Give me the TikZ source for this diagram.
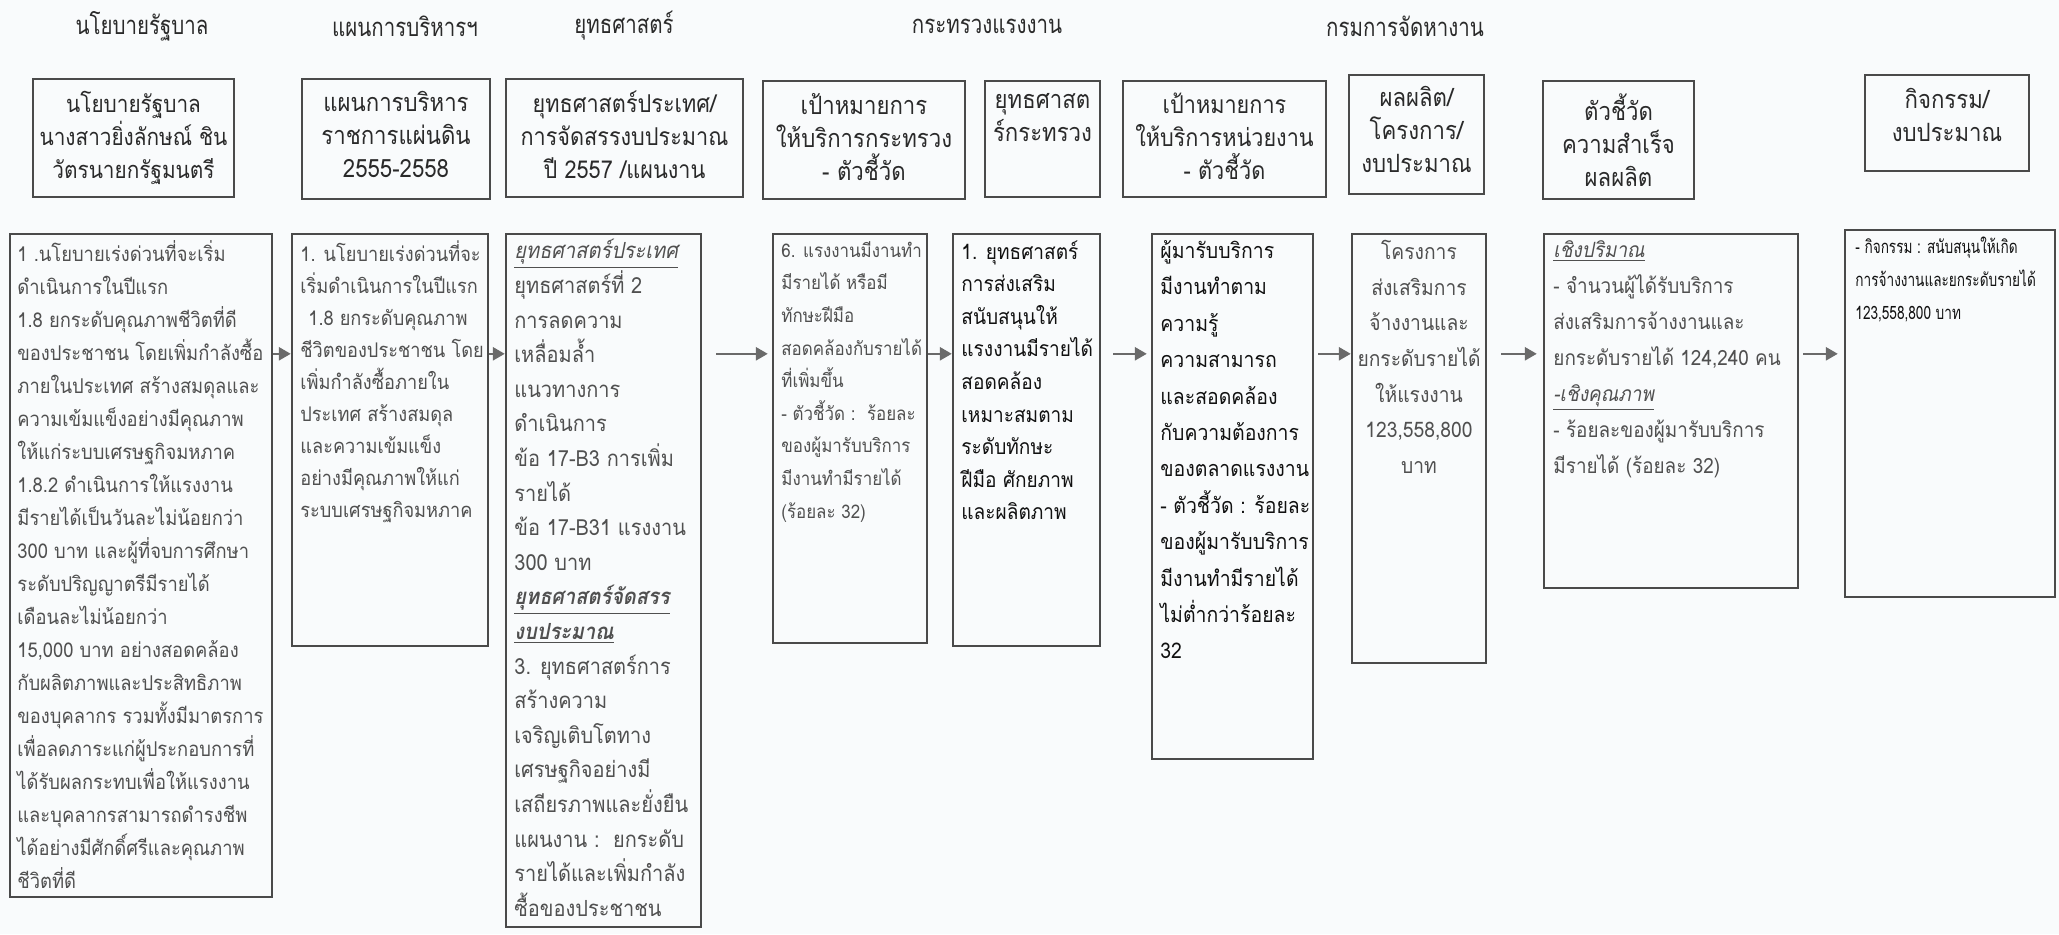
\documentclass[tikz,border=0pt]{standalone}
\usepackage{fontspec}
\setmainfont[Script=Thai,FakeStretch=0.9]{Loma}
\newfontfamily\thainarrow[Script=Thai,FakeStretch=0.74]{Loma}
\newfontfamily\thaihead[Script=Thai,FakeStretch=0.88]{Loma}
\newfontfamily\thaititle[Script=Thai,FakeStretch=0.8]{Loma}
\usetikzlibrary{arrows.meta,fit}
\definecolor{bg}{HTML}{F9FBFC}
\definecolor{boxline}{HTML}{4A4A4A}
\definecolor{graytext}{HTML}{505050}
\definecolor{darktext}{HTML}{111111}
\definecolor{headtext}{HTML}{2A2A2A}
\definecolor{arrowcol}{HTML}{6A6A6A}
\begin{document}
\begin{tikzpicture}[x=0.5pt,y=-0.5pt,
  frame/.style={draw=boxline, line width=1.2pt, inner sep=0pt},
  bodytxt/.style={anchor=north west, inner sep=0pt, align=left, text=graytext,
    font=\fontsize{10.7pt}{16.5pt}\selectfont},
  darktxt/.style={bodytxt, text=darktext},
  headtxt/.style={anchor=north, inner sep=0pt, align=center, text=headtext,
    font=\thaihead\fontsize{12.6pt}{16.5pt}\selectfont},
  titletxt/.style={anchor=center, inner sep=0pt, text=headtext,
    font=\thaititle\fontsize{12.8pt}{15pt}\selectfont},
  arr/.style={draw=arrowcol, line width=1.3pt, -{Triangle[length=6pt,width=6.5pt]}},
]
\useasboundingbox (0,0) rectangle (2059,934);
\fill[bg] (0,0) rectangle (2059,934);

% ---- titles ----
\node[titletxt] (ti1) at (142,26) {นโยบายรัฐบาล};
\node[titletxt] (ti2) at (405,26) {แผนการบริหารฯ};
\node[titletxt] (ti3) at (624,26) {ยุทธศาสตร์};
\node[titletxt] (ti4) at (987,26) {กระทรวงแรงงาน};
\node[titletxt] (ti5) at (1405,26) {กรมการจัดหางาน};

% ---- header boxes ----
\node[frame, fit={(33,79) (234,197)}] (hA) {};
\node[headtxt, font=\thaihead\fontsize{11.8pt}{16.5pt}\selectfont] (thA) at (133.5,91) {นโยบายรัฐบาล\\นางสาวยิ่งลักษณ์ ชิน\\วัตรนายกรัฐมนตรี};
\node[frame, fit={(302,79) (490,199)}] (hB) {};
\node[headtxt] (thB) at (396,91) {แผนการบริหาร\\ราชการแผ่นดิน\\2555-2558};
\node[frame, fit={(506,79) (743,197)}] (hC) {};
\node[headtxt, font=\thaihead\fontsize{12.3pt}{16.5pt}\selectfont] (thC) at (624.5,91) {ยุทธศาสตร์ประเทศ/\\การจัดสรรงบประมาณ\\ปี 2557 /แผนงาน};
\node[frame, fit={(763,81) (965,199)}] (hD) {};
\node[headtxt] (thD) at (864,93) {เป้าหมายการ\\ให้บริการกระทรวง\\- ตัวชี้วัด};
\node[frame, fit={(985,81) (1100,197)}] (hE) {};
\node[headtxt] (thE) at (1042.5,93) {ยุทธศาสต\\ร์กระทรวง};
\node[frame, fit={(1123,81) (1326,197)}] (hF) {};
\node[headtxt, font=\thaihead\fontsize{12.3pt}{16.5pt}\selectfont] (thF) at (1224.5,93) {เป้าหมายการ\\ให้บริการหน่วยงาน\\- ตัวชี้วัด};
\node[frame, fit={(1349,75) (1484,194)}] (hG) {};
\node[headtxt] (thG) at (1416.5,86) {ผลผลิต/\\โครงการ/\\งบประมาณ};
\node[frame, fit={(1543,81) (1694,199)}] (hH) {};
\node[headtxt] (thH) at (1618.5,93) {ตัวชี้วัด\\ความสำเร็จ\\ผลผลิต};
\node[frame, fit={(1865,75) (2029,171)}] (hI) {};
\node[headtxt] (thI) at (1947,88) {กิจกรรม/\\งบประมาณ};

% ---- body boxes ----
\node[frame, fit={(10,234) (272,897)}] (b1) {};
\node[bodytxt, font=\fontsize{10.2pt}{16.5pt}\selectfont] (t1) at (17,240) {1 .นโยบายเร่งด่วนที่จะเริ่ม\\
ดำเนินการในปีแรก\\
1.8 ยกระดับคุณภาพชีวิตที่ดี\\
ของประชาชน โดยเพิ่มกำลังซื้อ\\
ภายในประเทศ สร้างสมดุลและ\\
ความเข้มแข็งอย่างมีคุณภาพ\\
ให้แก่ระบบเศรษฐกิจมหภาค\\
1.8.2 ดำเนินการให้แรงงาน\\
มีรายได้เป็นวันละไม่น้อยกว่า\\
300 บาท และผู้ที่จบการศึกษา\\
ระดับปริญญาตรีมีรายได้\\
เดือนละไม่น้อยกว่า\\
15,000 บาท อย่างสอดคล้อง\\
กับผลิตภาพและประสิทธิภาพ\\
ของบุคลากร รวมทั้งมีมาตรการ\\
เพื่อลดภาระแก่ผู้ประกอบการที่\\
ได้รับผลกระทบเพื่อให้แรงงาน\\
และบุคลากรสามารถดำรงชีพ\\
ได้อย่างมีศักดิ์ศรีและคุณภาพ\\
ชีวิตที่ดี};

\node[frame, fit={(292,234) (488,646)}] (b2) {};
\node[bodytxt, font=\fontsize{10.1pt}{16pt}\selectfont] (t2) at (300,240) {1. นโยบายเร่งด่วนที่จะ\\
เริ่มดำเนินการในปีแรก\\
\hspace*{4pt}1.8 ยกระดับคุณภาพ\\
ชีวิตของประชาชน โดย\\
เพิ่มกำลังซื้อภายใน\\
ประเทศ สร้างสมดุล\\
และความเข้มแข็ง\\
อย่างมีคุณภาพให้แก่\\
ระบบเศรษฐกิจมหภาค};

\node[frame, fit={(506,234) (701,927)}] (b3) {};
\node[bodytxt, font=\fontsize{11.1pt}{17.3pt}\selectfont] (t3) at (514,239) {\underline{\itshape ยุทธศาสตร์ประเทศ}\\
ยุทธศาสตร์ที่ 2\\
การลดความ\\
เหลื่อมล้ำ\\
แนวทางการ\\
ดำเนินการ\\
ข้อ 17-B3 การเพิ่ม\\
รายได้\\
ข้อ 17-B31 แรงงาน\\
300 บาท\\
\underline{\bfseries\itshape ยุทธศาสตร์จัดสรร}\\
\underline{\bfseries\itshape งบประมาณ}\\
3. ยุทธศาสตร์การ\\
สร้างความ\\
เจริญเติบโตทาง\\
เศรษฐกิจอย่างมี\\
เสถียรภาพและยั่งยืน\\
แผนงาน :\ \ ยกระดับ\\
รายได้และเพิ่มกำลัง\\
ซื้อของประชาชน};

\node[frame, fit={(773,234) (927,643)}] (b4) {};
\node[bodytxt, font=\fontsize{9.4pt}{16.3pt}\selectfont] (t4) at (781,241) {6. แรงงานมีงานทำ\\
มีรายได้ หรือมี\\
ทักษะฝีมือ\\
สอดคล้องกับรายได้\\
ที่เพิ่มขึ้น\\
- ตัวชี้วัด :\ \ ร้อยละ\\
ของผู้มารับบริการ\\
มีงานทำมีรายได้\\
(ร้อยละ 32)};

\node[frame, fit={(953,234) (1100,646)}] (b5) {};
\node[darktxt, font=\fontsize{10.6pt}{16.3pt}\selectfont] (t5) at (961,240) {1. ยุทธศาสตร์\\
การส่งเสริม\\
สนับสนุนให้\\
แรงงานมีรายได้\\
สอดคล้อง\\
เหมาะสมตาม\\
ระดับทักษะ\\
ฝีมือ ศักยภาพ\\
และผลิตภาพ};

\node[frame, fit={(1152,234) (1313,759)}] (b6) {};
\node[darktxt, font=\fontsize{10.8pt}{18.2pt}\selectfont] (t6) at (1160,240) {ผู้มารับบริการ\\
มีงานทำตาม\\
ความรู้\\
ความสามารถ\\
และสอดคล้อง\\
กับความต้องการ\\
ของตลาดแรงงาน\\
- ตัวชี้วัด : ร้อยละ\\
ของผู้มารับบริการ\\
มีงานทำมีรายได้\\
ไม่ต่ำกว่าร้อยละ\\
32};

\node[frame, fit={(1352,234) (1486,663)}] (b7) {};
\node[bodytxt, anchor=north, align=center, font=\fontsize{10.7pt}{17.8pt}\selectfont] (t7) at (1419,240) {โครงการ\\
ส่งเสริมการ\\
จ้างงานและ\\
ยกระดับรายได้\\
ให้แรงงาน\\
123,558,800\\
บาท};

\node[frame, fit={(1544,234) (1798,588)}] (b8) {};
\node[bodytxt, font=\fontsize{10.5pt}{18pt}\selectfont] (t8) at (1553,240) {\underline{\itshape เชิงปริมาณ}\\
- จำนวนผู้ได้รับบริการ\\
ส่งเสริมการจ้างงานและ\\
ยกระดับรายได้ 124,240 คน\\
\underline{\itshape -เชิงคุณภาพ}\\
- ร้อยละของผู้มารับบริการ\\
มีรายได้ (ร้อยละ 32)};

\node[frame, fit={(1845,230) (2055,597)}] (b9) {};
\node[darktxt, font=\thainarrow\fontsize{9.2pt}{16.5pt}\selectfont] (t9) at (1855,237) {- กิจกรรม : สนับสนุนให้เกิด\\
การจ้างงานและยกระดับรายได้\\
123,558,800 บาท};

% ---- arrows ----
\draw[arr] ([yshift=-60.5pt]b1.north east) -- ([yshift=-60.5pt]b2.north west);
\draw[arr] ([yshift=-60.5pt]b2.north east) -- ([yshift=-60.5pt]b3.north west);
\draw[arr, shorten <=7pt, shorten >=2pt] ([yshift=-60.5pt]b3.north east) -- ([yshift=-60.5pt]b4.north west);
\draw[arr] ([yshift=-60.5pt]b4.north east) -- ([yshift=-60.5pt]b5.north west);
\draw[arr, shorten <=6pt, shorten >=2pt] ([yshift=-60.5pt]b5.north east) -- ([yshift=-60.5pt]b6.north west);
\draw[arr, shorten <=2pt] ([yshift=-60.5pt]b6.north east) -- ([yshift=-60.5pt]b7.north west);
\draw[arr, shorten <=7pt, shorten >=3pt] ([yshift=-60.5pt]b7.north east) -- ([yshift=-60.5pt]b8.north west);
\draw[arr, shorten <=2pt, shorten >=3pt] ([yshift=-60.5pt]b8.north east) -- ([yshift=-62.5pt]b9.north west);
\end{tikzpicture}
\end{document}
